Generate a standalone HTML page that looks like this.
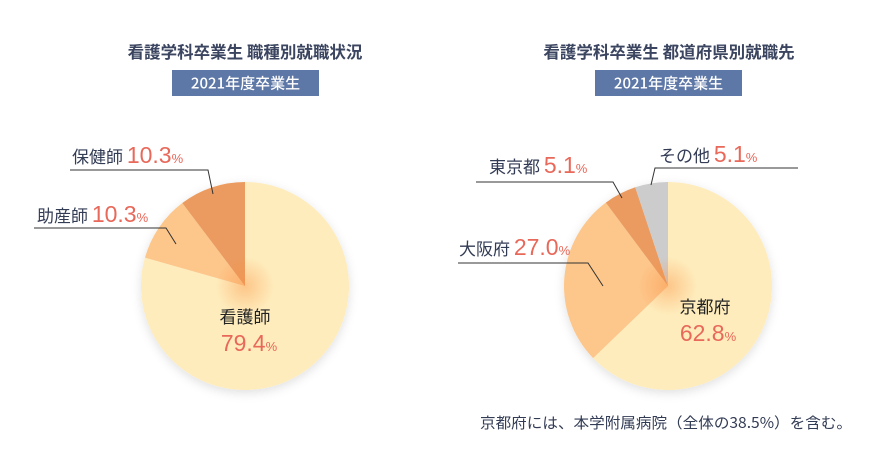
<!DOCTYPE html>
<html><head><meta charset="utf-8"><style>
html,body{margin:0;padding:0;background:#fff;}
svg{display:block;font-family:"Liberation Sans","Noto Sans CJK JP",sans-serif;}
.t{font-family:"Noto Sans CJK JP",sans-serif;font-weight:700;font-size:16.5px;fill:#3b4560;}
.b{font-family:"Noto Sans CJK JP",sans-serif;font-weight:500;font-size:15px;fill:#fff;}
.n{font-family:"Noto Sans CJK JP",sans-serif;font-size:17px;fill:#333c55;}
.v{font-family:"Liberation Sans",sans-serif;font-size:23px;fill:#e8685a;}
.p{font-size:13px;}
</style></head><body>
<svg id="svg" width="875" height="465" viewBox="0 0 875 465">
<defs>
<radialGradient id="g" cx="0.5" cy="0.5" r="0.5">
<stop offset="0" stop-color="#fb8c3c" stop-opacity="0.4"/>
<stop offset="0.28" stop-color="#fb8c3c" stop-opacity="0"/>
</radialGradient>
<filter id="sh" x="-20%" y="-20%" width="140%" height="140%"><feDropShadow dx="0" dy="3" stdDeviation="5" flood-color="#000" flood-opacity="0.12"/></filter>
</defs>
<text class="t" x="245" y="58" text-anchor="middle">看護学科卒業生 職種別就職状況</text>
<rect x="172" y="70" width="147" height="26" fill="#5d77a6"/>
<text class="b" x="245.5" y="88.5" text-anchor="middle">2021年度卒業生</text>
<text class="t" x="669" y="58" text-anchor="middle">看護学科卒業生 都道府県別就職先</text>
<rect x="595" y="70" width="147" height="26" fill="#5d77a6"/>
<text class="b" x="668.5" y="88.5" text-anchor="middle">2021年度卒業生</text>
<g id="pies"></g>
<g>
<polyline points="70,170 208,170 213,194" fill="none" stroke="#333" stroke-width="1"/>
<text x="72" y="163"><tspan class="n">保健師 </tspan><tspan class="v">10.3</tspan><tspan class="v p">%</tspan></text>
<polyline points="34,228 166,228 176,244" fill="none" stroke="#333" stroke-width="1"/>
<text x="37" y="222"><tspan class="n">助産師 </tspan><tspan class="v">10.3</tspan><tspan class="v p">%</tspan></text>
<text class="n" x="245" y="323" text-anchor="middle" style="fill:#222">看護師</text>
<text x="249" y="351" text-anchor="middle"><tspan class="v">79.4</tspan><tspan class="v p">%</tspan></text>
</g>
<g>
<polyline points="476,182 613,182 622,198" fill="none" stroke="#333" stroke-width="1"/>
<text x="489" y="173"><tspan class="n">東京都 </tspan><tspan class="v">5.1</tspan><tspan class="v p">%</tspan></text>
<polyline points="798,168 655,168 651,185" fill="none" stroke="#333" stroke-width="1"/>
<text x="659" y="162"><tspan class="n">その他 </tspan><tspan class="v">5.1</tspan><tspan class="v p">%</tspan></text>
<polyline points="458,263 588,263 603,286" fill="none" stroke="#333" stroke-width="1"/>
<text x="459" y="255"><tspan class="n">大阪府 </tspan><tspan class="v">27.0</tspan><tspan class="v p">%</tspan></text>
<text class="n" x="705" y="313" text-anchor="middle" style="fill:#222">京都府</text>
<text x="708" y="341" text-anchor="middle"><tspan class="v">62.8</tspan><tspan class="v p">%</tspan></text>
</g>
<text x="480" y="428" textLength="372" lengthAdjust="spacingAndGlyphs" style="font-family:'Noto Sans CJK JP',sans-serif;font-size:15px;fill:#333c55">京都府には、本学附属病院（全体の38.5%）を含む。</text>
</svg>
<script>
const leftCategories = ["看護師","助産師","保健師"];
const leftValues = [79.4, 10.3, 10.3];
const leftColors = ["#feecbc","#fdc68a","#eb9b5e"];
const rightCategories = ["京都府","大阪府","東京都","その他"];
const rightValues = [62.8, 27.0, 5.1, 5.1];
const rightColors = ["#feecbc","#fdc68a","#eb9b5e","#cccccc"];
const NS = "http://www.w3.org/2000/svg";
const pies = document.getElementById("pies");
function angleScale(v, total){ return v / total * Math.PI * 2; }
function pt(cx, cy, r, a){ return [cx + r*Math.sin(a), cy - r*Math.cos(a)]; }
function drawPie(cx, cy, r, cats, vals, cols, prefix){
  const g = document.createElementNS(NS, "g");
  g.setAttribute("filter", "url(#sh)");
  
  
  const total = vals.reduce((a,b)=>a+b,0);
  let a0 = 0;
  vals.forEach((v,i)=>{
    const a1 = a0 + angleScale(v,total);
    const p0 = pt(cx,cy,r,a0), p1 = pt(cx,cy,r,a1);
    const large = (a1-a0) > Math.PI ? 1 : 0;
    const path = document.createElementNS(NS, "path");
    path.setAttribute("d", `M${cx},${cy} L${p0[0]},${p0[1]} A${r},${r} 0 ${large} 1 ${p1[0]},${p1[1]} Z`);
    path.setAttribute("fill", cols[i]);
    
    
    const tt = document.createElementNS(NS, "title");
    tt.textContent = cats[i] + " " + v + "%";
    path.appendChild(tt);
    g.appendChild(path);
    a0 = a1;
  });
  pies.appendChild(g);
  const c = document.createElementNS(NS, "circle");
  c.setAttribute("cx", cx); c.setAttribute("cy", cy); c.setAttribute("r", r);
  c.setAttribute("fill", "url(#g)");
  
  
  pies.appendChild(c);
}
drawPie(245, 286, 104, leftCategories, leftValues, leftColors, "left");
drawPie(668, 286, 104, rightCategories, rightValues, rightColors, "right");
</script>
</body></html>
